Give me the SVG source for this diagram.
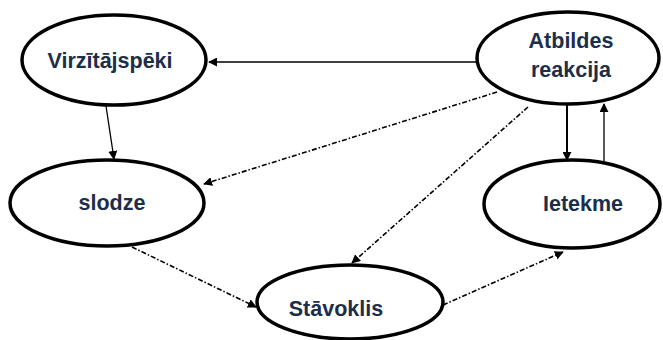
<svg xmlns="http://www.w3.org/2000/svg" width="663" height="340" viewBox="0 0 663 340">
<style>
.node ellipse{fill:#fff;stroke:#000;stroke-width:3.5}
.node text{font-family:"Liberation Sans",Arial,sans-serif;font-weight:bold;font-size:21.5px;fill:#1c2e4a;text-anchor:middle}
.c{stroke:#000;fill:none}
.solid{stroke-width:1.3}
.thick{stroke-width:2}
.dash{stroke-width:1.6;stroke-dasharray:5 2 1.5 2}
</style>
<defs>
<marker id="ah" viewBox="0 0 10 10" refX="9" refY="5" markerWidth="9" markerHeight="9" markerUnits="userSpaceOnUse" orient="auto">
<path d="M0,0 L10,5 L0,10 z" fill="#000"/>
</marker>
</defs>
<rect width="663" height="340" fill="#fff"/>
<g id="connectors">
<line class="c solid" x1="477" y1="62" x2="209" y2="62" marker-end="url(#ah)"/>
<line class="c solid" x1="106" y1="106" x2="114" y2="159" marker-end="url(#ah)"/>
<line class="c dash" x1="497" y1="92" x2="204" y2="184" marker-end="url(#ah)"/>
<line class="c dash" x1="528" y1="107" x2="352" y2="263" marker-end="url(#ah)"/>
<line class="c thick" x1="567" y1="104" x2="567" y2="160" marker-end="url(#ah)"/>
<line class="c solid" x1="604" y1="161" x2="604" y2="104" marker-end="url(#ah)"/>
<line class="c dash" x1="132" y1="247" x2="256" y2="307" marker-end="url(#ah)"/>
<line class="c dash" x1="443" y1="305" x2="563" y2="252" marker-end="url(#ah)"/>
</g>
<g id="n-virzitajspeki" class="node">
<ellipse cx="114" cy="60" rx="92" ry="45"/>
<text x="110" y="68">Virzītājspēki</text>
</g>
<g id="n-atbildes" class="node">
<ellipse cx="568" cy="58" rx="91" ry="46"/>
<text x="571" y="48">Atbildes</text>
<text x="571" y="77">reakcija</text>
</g>
<g id="n-slodze" class="node">
<ellipse cx="107" cy="203" rx="97" ry="43"/>
<text x="112" y="210">slodze</text>
</g>
<g id="n-ietekme" class="node">
<ellipse cx="572" cy="204" rx="88" ry="44"/>
<text x="583" y="211">Ietekme</text>
</g>
<g id="n-stavoklis" class="node">
<ellipse cx="350" cy="302" rx="93" ry="37"/>
<text x="336" y="316">Stāvoklis</text>
</g>
</svg>
